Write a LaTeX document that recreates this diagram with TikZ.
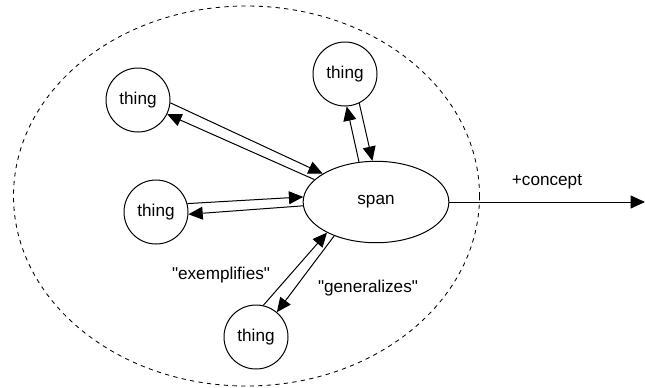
\documentclass[tikz,border=0pt]{standalone}
\usepackage{fontspec}
\setmainfont{Liberation Sans}
\usetikzlibrary{arrows.meta}
\usetikzlibrary{shapes.geometric}

\begin{document}
\begin{tikzpicture}[x=0.7pt,y=-0.7pt,font=\fontsize{12pt}{14pt}\selectfont]
  % some styles
  \tikzset{
    thing/.style={
      circle,
      minimum size=44.8pt,
      inner sep=0pt,
      line width=0.7pt,
      draw=black
    },
    spanned/.style={
      ellipse,
      minimum width=102pt,
      minimum height=57pt,
      inner sep=0pt,
      line width=0.7pt,
      draw=black
    }
  }
  \tikzset{link/.style={-{Triangle[length=10pt,width=9pt]},line width=0.7pt}}
  \tikzset{tag/.style={inner sep=1pt}}

  \useasboundingbox (0,0) rectangle (645,387);

  % the surrounding span
  \draw[line width=0.6pt,dash pattern=on 3pt off 3pt]
    (246.5,196) ellipse [x radius=233, y radius=190];

  \node[spanned] (span) at (376,202) {span};
  \node[thing] (t1) at (138,100) {thing};
  \node[thing] (t2) at (156,212) {thing};
  \node[thing] (t3) at (345,74) {thing};
  \node[thing] (t4) at (256,337) {thing};

  % thing -> span
  \foreach \t/\a/\b in {t1/-5/152, t2/15/176, t3/-64/95, t4/77/212}
    \draw[link] (\t.\a) -- (span.\b);
  % span -> thing
  \foreach \t/\a/\b in {t1/160/-26, t2/183/-4, t3/113/-87, t4/219/50}
    \draw[link] (span.\a) -- (\t.\b);

  \coordinate (out) at (645,202);
  \draw[link] (span.east) -- (out);

  \node[tag] (concept) at (547,182) {+concept};
  \node[tag] (exempl) at (221,275) {\textquotedbl exemplifies\textquotedbl};
  \node[tag] (general) at (368,288) {\textquotedbl generalizes\textquotedbl};

\end{tikzpicture}
\end{document}
